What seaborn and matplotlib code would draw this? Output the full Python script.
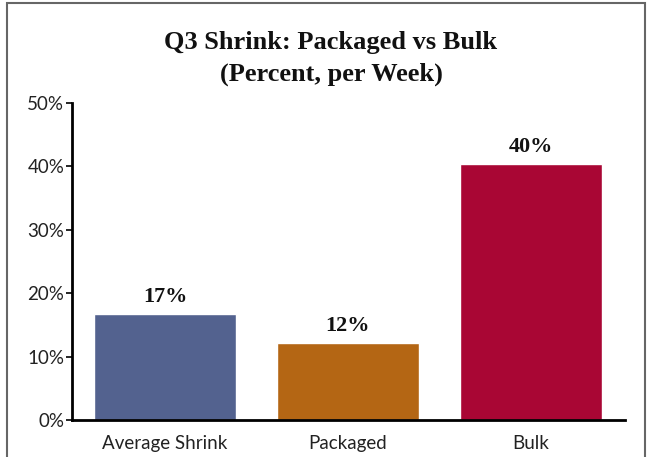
import matplotlib
matplotlib.use("Agg")
import matplotlib.pyplot as plt
import seaborn as sns
import pandas as pd
from matplotlib.patches import Rectangle

categories = ["Average Shrink", "Packaged", "Bulk"]
values = [16.7, 12.1, 40.4]
labels = ["17%", "12%", "40%"]
colors = ["#53628F", "#B46614", "#A90634"]
yticks = [0, 10, 20, 30, 40, 50]
ytick_labels = ["0%", "10%", "20%", "30%", "40%", "50%"]

sns.set_theme(style="white")
plt.rcParams["font.family"] = ["Lato", "DejaVu Sans"]

df = pd.DataFrame({"cat": categories, "val": values})

fig = plt.figure(figsize=(6.49, 4.57), dpi=100)
ax = fig.add_axes([72/649, 37/457, 553/649, 317/457])
sns.barplot(data=df, x="cat", y="val", hue="cat", palette=colors,
            order=categories, hue_order=categories, legend=False,
            width=0.776, saturation=1, ax=ax)

ax.set_xlim(-0.508, 2.514)
ax.set_ylim(0, 50)
ax.set_yticks(yticks)
ax.set_yticklabels(ytick_labels)
ax.set_xlabel("")
ax.set_ylabel("")
for s in ["top", "right"]:
    ax.spines[s].set_visible(False)
for s in ["left", "bottom"]:
    ax.spines[s].set_color("black")
    ax.spines[s].set_linewidth(2)
ax.tick_params(axis="y", left=True, length=4, width=1.2, color="black",
               labelsize=13.5, pad=1.5, labelcolor="#222222")
ax.tick_params(axis="x", bottom=False, labelsize=13.5, pad=5, labelcolor="#222222")

for p, lab in zip(ax.patches, labels):
    ax.text(p.get_x() + p.get_width()/2, p.get_height() + 1.1, lab,
            ha="center", va="bottom", fontsize=16, fontweight="bold",
            family=["Liberation Serif"], color="#111111")

fig.text(331/649, 1 - 42/457, "Q3 Shrink: Packaged vs Bulk", ha="center", va="center",
         fontsize=19, fontweight="bold", family=["Liberation Serif"], color="#111111")
fig.text(331/649, 1 - 74/457, "(Percent, per Week)", ha="center", va="center",
         fontsize=19, fontweight="bold", family=["Liberation Serif"], color="#111111")

fig.patches.append(Rectangle((7/649, -0.05), 638/649, 1.05 - 3/457,
                             transform=fig.transFigure, fill=False,
                             edgecolor="#666666", linewidth=1.5, figure=fig))

fig.savefig("out.png", dpi=100)
